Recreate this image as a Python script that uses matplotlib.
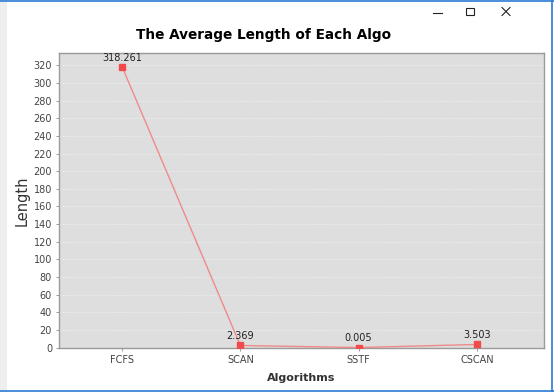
import matplotlib.pyplot as plt
from matplotlib.lines import Line2D
from matplotlib.patches import Rectangle

algos = ['FCFS', 'SCAN', 'SSTF', 'CSCAN']
avg_len = [318.261, 2.369, 0.005, 3.503]
yticks = list(range(0, 321, 20))

W, H = 554, 392
fig = plt.figure(figsize=(W / 100, H / 100), dpi=100)
fig.patch.set_facecolor('white')

# window chrome: grey strip on the left, blue border, title-bar buttons
fig.patches.append(Rectangle((0, 0), 7 / W, 1, transform=fig.transFigure,
                             facecolor='#eeeeee', edgecolor='none'))
for xs, ys in [([0, 1], [1 - 0.5 / H, 1 - 0.5 / H]),
               ([1 - 2 / W, 1 - 2 / W], [0, 1]),
               ([0, 1], [1.5 / H, 1.5 / H])]:
    fig.lines.append(Line2D(xs, ys, transform=fig.transFigure, color='#2b7cd3', lw=1.2))
# minimise
fig.lines.append(Line2D([433 / W, 442 / W], [1 - 12.5 / H, 1 - 12.5 / H],
                        transform=fig.transFigure, color='#222222', lw=0.8))
# maximise
fig.patches.append(Rectangle((466 / W, 1 - 15 / H), 7.5 / W, 7.5 / H, transform=fig.transFigure,
                             facecolor='none', edgecolor='#222222', lw=0.8))
# close
fig.lines.append(Line2D([502 / W, 510 / W], [1 - 7.5 / H, 1 - 15.5 / H],
                        transform=fig.transFigure, color='#222222', lw=0.8))
fig.lines.append(Line2D([502 / W, 510 / W], [1 - 15.5 / H, 1 - 7.5 / H],
                        transform=fig.transFigure, color='#222222', lw=0.8))

ax = fig.add_axes([59 / W, (H - 348) / H, 485 / W, 295 / H])
ax.set_facecolor('#dedede')
x = list(range(len(algos)))
ax.plot(x, avg_len, color='#f08a8a', lw=1.0, zorder=3)
ax.plot(x, avg_len, ls='none', marker='s', ms=5, color='#f04a4a', zorder=4)
for xi, v in zip(x, avg_len):
    ax.annotate('%.3f' % v, (xi, v), xytext=(0, 3),
                textcoords='offset points', ha='center', va='bottom',
                fontsize=7, color='#222222')

ax.set_xlim(-0.534, 3.568)
ax.set_ylim(-0.5, 334)
ax.set_xticks(x)
ax.set_xticklabels(algos)
ax.set_yticks(yticks)
ax.yaxis.grid(True, color='#f4f4f4', ls=(0, (2, 2)), lw=0.5)
ax.set_axisbelow(True)
for s in ax.spines.values():
    s.set_color('#9a9a9a')
    s.set_linewidth(1.0)
ax.tick_params(axis='both', labelsize=7, colors='#444444', length=2, width=0.6,
               color='#888888', pad=3)
ax.set_ylabel('Length', fontsize=10.5, color='#333333', labelpad=3)
ax.set_xlabel('Algorithms', fontsize=8, color='#333333', labelpad=6, fontweight='bold')

fig.text(264 / W, 1 - 35 / H, 'The Average Length of Each Algo', ha='center',
         va='center', fontsize=9.8, fontweight='bold', color='black')

fig.savefig('out.png', dpi=100)
